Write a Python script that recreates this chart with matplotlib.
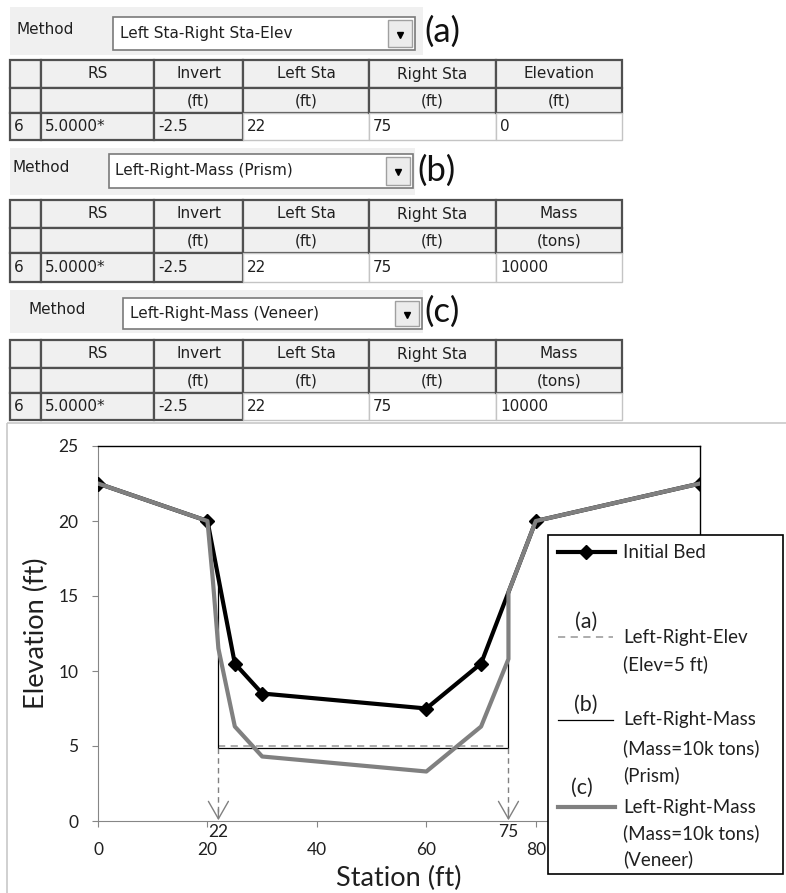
import numpy as np
import matplotlib.pyplot as plt
from matplotlib.patches import Rectangle

# bed profile (station ft, elevation ft)
bed_x = [0, 20, 25, 30, 60, 70, 80, 110]
bed_y = [22.5, 20, 10.5, 8.5, 7.5, 10.5, 20, 22.5]

elev_x = [22, 75]          # (a) Left-Right-Elev, elev = 5 ft
elev_y = [5, 5]

prism_x = [22, 22, 75, 75]  # (b) prism
prism_y = [16.2, 4.85, 4.85, 15.25]

veneer_x = [0, 20, 21, 22, 25, 30, 60, 70, 75, 75, 80, 110]  # (c) veneer
veneer_y = [22.5, 20, 16, 11.5, 6.3, 4.3, 3.3, 6.3, 10.8, 15.25, 20, 22.5]

sta_marks = [22, 75]
x_ticks = [0, 20, 40, 60, 80]
y_ticks = [0, 5, 10, 15, 20, 25]

# method tables
letters = ['(a)', '(b)', '(c)']
methods = ['Left Sta-Right Sta-Elev', 'Left-Right-Mass (Prism)', 'Left-Right-Mass (Veneer)']
col_heads = ['', 'RS', 'Invert', 'Left Sta', 'Right Sta']
col_units = ['', '', '(ft)', '(ft)', '(ft)']
row_vals = ['6', '5.0000*', '-2.5', '22', '75']
last_head = ['Elevation', 'Mass', 'Mass']
last_unit = ['(ft)', '(tons)', '(tons)']
last_val = ['0', '10000', '10000']

W, H = 786, 893
fig = plt.figure(figsize=(W / 100, H / 100), dpi=100)

chart_font = 'Lato'
ui_font = 'DejaVu Sans'
txt_col = '#202020'

# ---- chart ----
ax = fig.add_axes([98 / W, 72 / H, 602 / W, 375 / H], zorder=1)
ax.plot(bed_x, bed_y, color='black', lw=3, marker='D', ms=7.5, zorder=3)
ax.plot(elev_x, elev_y, color='#a6a6a6', lw=1.3, ls=(0, (4, 3)), zorder=2)
ax.plot(prism_x, prism_y, color='black', lw=0.9, zorder=2)
ax.plot(veneer_x, veneer_y, color='#808080', lw=3, zorder=4)

for s in sta_marks:
    ax.plot([s, s], [4.85, 0.3], color='#808080', lw=1, ls=(0, (4, 3)), zorder=2)
    ax.annotate('', xy=(s, 0.05), xytext=(s, 0.8),
                arrowprops=dict(arrowstyle='->, head_length=0.7, head_width=0.4',
                                color='#808080', lw=1, mutation_scale=18,
                                shrinkA=0, shrinkB=0), zorder=2)
    ax.annotate(str(s), xy=(s, 0), xycoords=('data', 'axes fraction'),
                xytext=(0, -8), textcoords='offset points', ha='center', va='center',
                fontsize=12.5, family=chart_font, color=txt_col)

ax.set_xlim(0, 110)
ax.set_ylim(0, 25)
ax.set_xticks(x_ticks)
ax.set_yticks(y_ticks)
for side in ['left', 'bottom']:
    ax.spines[side].set_color('#868686')
for side in ['top', 'right']:
    ax.spines[side].set_color('black')
    ax.spines[side].set_linewidth(1)
ax.tick_params(axis='x', direction='out', length=4, color='#868686', pad=11,
               labelsize=12.5, labelcolor=txt_col)
ax.tick_params(axis='y', direction='out', length=4, color='#868686', pad=10,
               labelsize=12.5, labelcolor=txt_col)
for lab in ax.get_xticklabels() + ax.get_yticklabels():
    lab.set_family(chart_font)

ax.set_xlabel('Station (ft)', fontsize=19.5, family=chart_font, color=txt_col)
ax.set_ylabel('Elevation (ft)', fontsize=19.5, family=chart_font, color=txt_col)
ax.xaxis.label.set_va('center')
ax.yaxis.label.set_va('center')
ax.xaxis.set_label_coords(0.5, -0.152)
ax.yaxis.set_label_coords(-62 / 602, 0.5)

# ---- overlay in pixel coords: GUI tables, chart frame, legend ----
ov = fig.add_axes([0, 0, 1, 1], zorder=5)
ov.set_xlim(0, W)
ov.set_ylim(H, 0)
ov.axis('off')
ov.patch.set_alpha(0)

ov.add_patch(Rectangle((7, 423), W, H, fc='none', ec='#c8c8c8', lw=1.2))

blocks = [
    dict(panel=(10, 7, 423, 55), meth=(17, 29), combo=(113, 17, 415, 50), tx=120, let=(424, 32),
         rows=[60, 88, 113, 140]),
    dict(panel=(10, 148, 415, 195), meth=(13, 168), combo=(109, 154, 413, 188), tx=115, let=(417, 171),
         rows=[200, 228, 253, 282]),
    dict(panel=(10, 290, 423, 333), meth=(28, 309), combo=(123, 298, 422, 329), tx=130, let=(424, 312),
         rows=[340, 368, 393, 420]),
]
cols = [10, 41, 154, 243, 369, 496, 622]

for i, b in enumerate(blocks):
    x0, y0, x1, y1 = b['panel']
    ov.add_patch(Rectangle((x0, y0), x1 - x0, y1 - y0, fc='#f0f0f0', ec='none'))
    ov.text(b['meth'][0], b['meth'][1], 'Method', fontsize=11, family=ui_font,
            color=txt_col, va='center', ha='left')
    cx0, cy0, cx1, cy1 = b['combo']
    ov.add_patch(Rectangle((cx0, cy0), cx1 - cx0, cy1 - cy0, fc='white', ec='#7a7a7a', lw=1.2))
    ov.add_patch(Rectangle((cx1 - 27, cy0 + 3), 24, cy1 - cy0 - 6, fc='#ececec', ec='#a0a0a0', lw=1))
    ov.plot(cx1 - 15, (cy0 + cy1) / 2 + 1, marker='v', ms=5, color='black')
    ov.text(b['tx'], (cy0 + cy1) / 2, methods[i], fontsize=11, family=ui_font,
            color=txt_col, va='center', ha='left')
    ov.text(b['let'][0], b['let'][1], letters[i], fontsize=25, family=chart_font,
            color='#111111', va='center', ha='left')

    heads = col_heads + [last_head[i]]
    units = col_units + [last_unit[i]]
    vals = row_vals + [last_val[i]]
    r = b['rows']
    for j in range(len(cols) - 1):
        w = cols[j + 1] - cols[j]
        for k, (txt, gray) in enumerate([(heads[j], True), (units[j], True), (vals[j], j < 3)]):
            fc = '#f0f0f0' if gray else 'white'
            ec = '#505050' if gray else '#c4c4c4'
            ov.add_patch(Rectangle((cols[j], r[k]), w, r[k + 1] - r[k], fc=fc, ec=ec,
                                   lw=1.6 if gray else 1))
            if not txt:
                continue
            ym = (r[k] + r[k + 1]) / 2
            if k < 2:
                ov.text(cols[j] + w / 2, ym, txt, fontsize=11, family=ui_font,
                        color=txt_col, va='center', ha='center')
            else:
                ov.text(cols[j] + 4, ym, txt, fontsize=11, family=ui_font,
                        color=txt_col, va='center', ha='left')

# legend box
ov.add_patch(Rectangle((548, 535), 235, 339, fc='white', ec='black', lw=1.2))
ov.plot([558, 615], [552, 552], color='black', lw=3)
ov.plot([586], [552], marker='D', ms=7.5, color='black')
ov.plot([558, 613], [637, 637], color='#a6a6a6', lw=1.3, ls=(0, (4, 3)))
ov.plot([558, 613], [720, 720], color='black', lw=0.9)
ov.plot([558, 615], [807, 807], color='#808080', lw=3)

leg_font = dict(fontsize=13.5, family=chart_font, color=txt_col, va='center', ha='left')
ov.text(623, 552, 'Initial Bed', **leg_font)
ov.text(586, 622, '(a)', **dict(leg_font, ha='center', fontsize=15.5))
ov.text(586, 705, '(b)', **dict(leg_font, ha='center', fontsize=15.5))
ov.text(582, 788, '(c)', **dict(leg_font, ha='center', fontsize=15.5))
for y, t in [(637, 'Left-Right-Elev'), (664, '(Elev=5 ft)'),
             (720, 'Left-Right-Mass'), (748, '(Mass=10k tons)'), (775, '(Prism)'),
             (807, 'Left-Right-Mass'), (833, '(Mass=10k tons)'), (859, '(Veneer)')]:
    ov.text(623, y, t, **leg_font)

fig.savefig('out.png', dpi=100)
